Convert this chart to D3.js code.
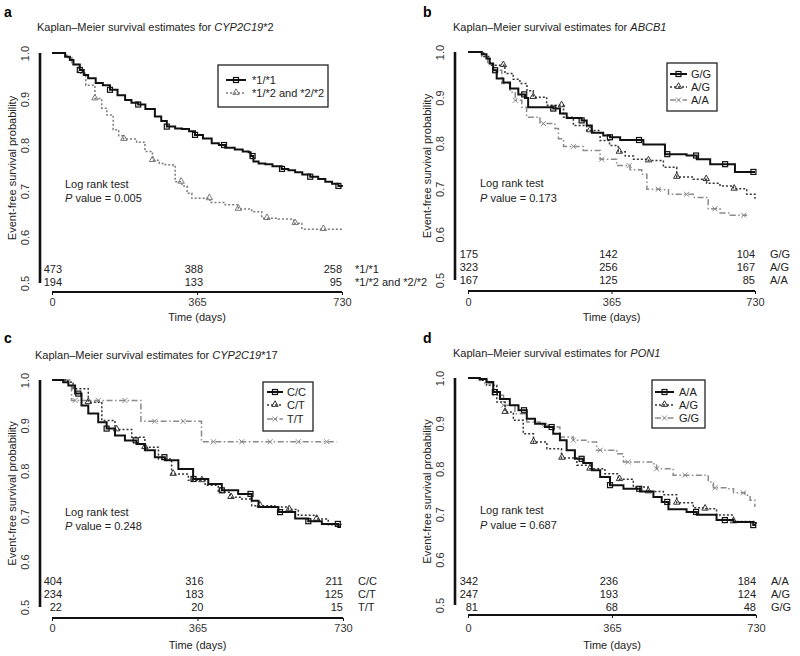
<!DOCTYPE html>
<html><head><meta charset="utf-8">
<script src="https://cdn.jsdelivr.net/npm/d3@7"></script>
<style>body{margin:0;background:#fff}svg text{font-family:"Liberation Sans",Arial,sans-serif;fill:#222}</style>
</head><body><svg id="c" width="800" height="656"></svg>
<script>
// ---------- data ----------
const timeTicks = [0, 365, 730];
const yTicks = [0.5, 0.6, 0.7, 0.8, 0.9, 1.0];
const yTickLabels = ["0.5", "0.6", "0.7", "0.8", "0.9", "1.0"];
const panelLetters = ["a", "b", "c", "d"];
const titleGene = ["CYP2C19", "ABCB1", "CYP2C19", "PON1"];
const titleSuffix = ["*2", "", "*17", ""];
const pValues = ["0.005", "0.173", "0.248", "0.687"];

// Panel a: CYP2C19*2
const groupsA = ["*1/*1", "*1/*2 and *2/*2"];
const curveA1 = [[0,1],[33,0.992],[45,0.985],[54,0.975],[70,0.963],[80,0.952],[91,0.945],[110,0.935],[128,0.93],[146,0.92],[165,0.908],[184,0.898],[200,0.892],[217,0.888],[235,0.878],[259,0.862],[275,0.852],[289,0.84],[310,0.836],[327,0.835],[345,0.83],[360,0.822],[380,0.814],[402,0.804],[420,0.8],[436,0.794],[460,0.79],[480,0.786],[495,0.784],[500,0.776],[507,0.764],[520,0.76],[537,0.758],[555,0.754],[578,0.748],[595,0.745],[612,0.741],[630,0.736],[650,0.731],[670,0.726],[688,0.72],[705,0.716],[721,0.711],[730,0.709]];
const curveA2 = [[0,1],[37,0.99],[50,0.975],[66,0.956],[85,0.93],[108,0.901],[125,0.88],[138,0.865],[154,0.833],[168,0.82],[180,0.813],[213,0.806],[234,0.786],[253,0.767],[270,0.76],[285,0.757],[305,0.755],[310,0.72],[327,0.711],[340,0.695],[352,0.684],[398,0.675],[436,0.67],[469,0.661],[503,0.655],[528,0.641],[570,0.639],[608,0.63],[629,0.617],[730,0.617]];
const marksA1 = [70,146,217,289,360,433,505,579,650,721];
const marksA2 = [108,181,253,325,396,469,541,612,683];
const riskA = [[473,388,258],[194,133,95]];

// Panel b: ABCB1
const groupsB = ["G/G", "A/G", "A/A"];
const curveB1 = [[0,1],[35,0.995],[47,0.986],[55,0.975],[64,0.96],[73,0.942],[90,0.933],[107,0.92],[128,0.907],[145,0.899],[153,0.879],[217,0.876],[234,0.865],[251,0.855],[289,0.85],[302,0.839],[315,0.823],[344,0.817],[361,0.813],[387,0.807],[446,0.797],[501,0.776],[556,0.773],[582,0.765],[616,0.754],[679,0.737],[730,0.737]];
const curveB2 = [[0,1],[40,0.99],[56,0.971],[94,0.953],[115,0.94],[132,0.931],[150,0.915],[166,0.901],[200,0.883],[243,0.857],[268,0.839],[302,0.828],[336,0.806],[360,0.795],[382,0.781],[400,0.772],[421,0.765],[459,0.762],[497,0.747],[531,0.726],[573,0.721],[607,0.712],[641,0.706],[675,0.7],[709,0.688],[730,0.678]];
const curveB3 = [[0,1],[35,0.99],[50,0.975],[64,0.96],[86,0.931],[107,0.912],[120,0.894],[137,0.879],[149,0.857],[179,0.855],[183,0.843],[221,0.832],[230,0.81],[243,0.793],[293,0.784],[336,0.765],[378,0.751],[412,0.742],[442,0.732],[455,0.699],[489,0.698],[510,0.688],[573,0.681],[611,0.656],[641,0.647],[667,0.642],[710,0.642]];
const marksB1 = [69,143,217,289,361,435,507,580,654,726];
const marksB2 = [90,166,238,310,385,459,531,606,677];
const marksB3 = [120,192,268,340,410,484,556,628,701];
const riskB = [[175,142,104],[323,256,167],[167,125,85]];

// Panel c: CYP2C19*17
const groupsC = ["C/C", "C/T", "T/T"];
const curveC1 = [[0,1],[28,0.995],[41,0.988],[58,0.97],[74,0.944],[91,0.926],[116,0.907],[137,0.893],[158,0.878],[183,0.867],[212,0.859],[233,0.845],[258,0.83],[283,0.823],[317,0.804],[354,0.782],[392,0.771],[426,0.757],[467,0.749],[501,0.734],[518,0.72],[568,0.709],[610,0.695],[643,0.689],[677,0.683],[718,0.676],[725,0.676]];
const curveC2 = [[0,1],[40,0.995],[53,0.981],[91,0.951],[125,0.911],[158,0.891],[200,0.874],[233,0.852],[267,0.826],[300,0.793],[342,0.779],[384,0.768],[417,0.753],[447,0.742],[476,0.738],[501,0.723],[559,0.72],[593,0.715],[618,0.702],[664,0.694],[693,0.681],[725,0.679]];
const curveC3 = [[0,1],[49,0.955],[223,0.909],[375,0.864],[714,0.864]];
const marksC1 = [66,137,210,282,355,426,498,572,643,717];
const marksC2 = [91,162,233,304,376,449,522,595,664];
const marksC3 = [58,116,183,258,329,405,476,547,618,689];
const riskC = [[404,316,211],[234,183,125],[22,20,15]];

// Panel d: PON1
const groupsD = ["A/A", "A/G", "G/G"];
const curveD1 = [[0,1],[30,0.998],[47,0.991],[64,0.969],[81,0.954],[106,0.94],[128,0.929],[149,0.91],[170,0.899],[195,0.892],[216,0.877],[233,0.863],[250,0.841],[271,0.822],[292,0.813],[314,0.797],[335,0.782],[360,0.764],[394,0.756],[436,0.75],[470,0.738],[491,0.727],[508,0.711],[554,0.705],[580,0.699],[630,0.687],[673,0.683],[723,0.676],[730,0.676]];
const curveD2 = [[0,1],[30,0.995],[47,0.984],[73,0.947],[94,0.925],[115,0.907],[140,0.877],[166,0.859],[200,0.844],[237,0.824],[276,0.808],[309,0.8],[347,0.789],[381,0.777],[419,0.76],[457,0.75],[495,0.743],[529,0.725],[571,0.714],[601,0.712],[630,0.698],[673,0.684],[730,0.678]];
const curveD3 = [[0,1],[25,0.995],[43,0.988],[64,0.962],[90,0.94],[119,0.921],[149,0.903],[183,0.896],[204,0.892],[233,0.87],[267,0.863],[305,0.859],[326,0.841],[377,0.833],[394,0.815],[470,0.811],[478,0.8],[520,0.786],[609,0.771],[622,0.758],[656,0.756],[673,0.747],[702,0.742],[715,0.731],[727,0.716]];
const marksD1 = [68,142,212,288,360,434,505,578,651,723];
const marksD2 = [94,166,238,309,384,457,529,601,673];
const marksD3 = [90,195,267,335,406,478,550,626,698];
const riskD = [[342,236,184],[247,193,124],[81,68,48]];

// ---------- styles ----------
const STY = {
  solid: {color:"#111", width:2, dash:null, mark:"square"},
  dotGrey: {color:"#7a7a7a", width:1.5, dash:"2,2", mark:"tri"},
  dotDark: {color:"#333", width:1.5, dash:"2,2", mark:"tri"},
  dashDot: {color:"#8a8a8a", width:1.5, dash:"6,2.5,1.5,2.5", mark:"x"}
};

// ---------- layout ----------
const panels = [
  {x0:52,x1:342,yTop:53,yBot:283,axX:40,axY:292,letter:[4,17],title:[37,31],
   legend:{x:218,y:65,w:110,h:42,rows:[80,93],sx:[226,246],tx:252},
   log:[65,188,202], riskLast:286, labX:355, tickY:306, xtitleY:321,
   series:[{n:groupsA[0],c:curveA1,m:marksA1,s:STY.solid},{n:groupsA[1],c:curveA2,m:marksA2,s:STY.dotGrey}], risk:riskA},
  {x0:468,x1:755,yTop:52,yBot:280,axX:455,axY:291,letter:[423,17],title:[453,31],
   legend:{x:667,y:63,w:50,h:48,rows:[74,87,100],sx:[670,687],tx:691},
   log:[480,187,202], riskLast:284, labX:770, tickY:306, xtitleY:321,
   series:[{n:groupsB[0],c:curveB1,m:marksB1,s:STY.solid},{n:groupsB[1],c:curveB2,m:marksB2,s:STY.dotDark},{n:groupsB[2],c:curveB3,m:marksB3,s:STY.dashDot}], risk:riskB},
  {x0:52,x1:343,yTop:380,yBot:607,axX:40,axY:618,letter:[4,343],title:[35,359],
   legend:{x:263,y:382,w:50,h:49,rows:[392,405,419],sx:[267,283],tx:287},
   log:[65,516,530], riskLast:611, labX:358, tickY:632, xtitleY:649,
   series:[{n:groupsC[0],c:curveC1,m:marksC1,s:STY.solid},{n:groupsC[1],c:curveC2,m:marksC2,s:STY.dotDark},{n:groupsC[2],c:curveC3,m:marksC3,s:STY.dashDot}], risk:riskC},
  {x0:468,x1:756,yTop:378,yBot:605,axX:455,axY:615,letter:[423,343],title:[453,357],
   legend:{x:652,y:380,w:53,h:48,rows:[392,405,418],sx:[655,674],tx:679},
   log:[480,514,529], riskLast:611, labX:771, tickY:632, xtitleY:649,
   series:[{n:groupsD[0],c:curveD1,m:marksD1,s:STY.solid},{n:groupsD[1],c:curveD2,m:marksD2,s:STY.dotDark},{n:groupsD[2],c:curveD3,m:marksD3,s:STY.dashDot}], risk:riskD}
];

const svg = d3.select("#c");
const FS = 11;

function drawMarker(g, type, x, y, color) {
  if (type === "square") {
    g.append("rect").attr("x", x-2.5).attr("y", y-2.5).attr("width",5).attr("height",5)
      .attr("fill","none").attr("stroke",color).attr("stroke-width",1.2);
  } else if (type === "tri") {
    const sym = d3.symbol().type(d3.symbolTriangle).size(18);
    g.append("path").attr("d", sym()).attr("transform",`translate(${x},${y-0.5})`)
      .attr("fill","none").attr("stroke",color).attr("stroke-width",1);
  } else {
    const sym = d3.symbol().type(d3.symbolX).size(18);
    g.append("path").attr("d", sym()).attr("transform",`translate(${x},${y})`)
      .attr("fill","none").attr("stroke",color).attr("stroke-width",1);
  }
}

function stepValue(curve, t) {
  let v = curve[0][1];
  for (const p of curve) { if (p[0] <= t) v = p[1]; }
  return v;
}

panels.forEach((P, i) => {
  const g = svg.append("g");
  const x = d3.scaleLinear().domain([0, 730]).range([P.x0, P.x1]);
  const y = d3.scaleLinear().domain([0.5, 1.0]).range([P.yBot, P.yTop]);

  // panel letter
  g.append("text").attr("x", P.letter[0]).attr("y", P.letter[1]).attr("font-size", 14)
    .attr("font-weight", "bold").style("fill","#000").text(panelLetters[i]);
  // title
  const tt = g.append("text").attr("x", P.title[0]).attr("y", P.title[1]).attr("font-size", FS);
  tt.append("tspan").text("Kaplan\u2013Meier survival estimates for ");
  tt.append("tspan").attr("font-style", "italic").text(titleGene[i]);
  if (titleSuffix[i]) tt.append("tspan").text(titleSuffix[i]);

  // y axis
  const yAx = d3.axisLeft(y).tickValues(yTicks).tickSize(0).tickFormat((d, k) => yTickLabels[k]);
  const ya = g.append("g").attr("transform", `translate(${P.axX},0)`).call(yAx);
  ya.select(".domain").attr("stroke", "#111").attr("stroke-width", 2.6).attr("d", `M0,${P.yBot}V${P.yTop}`);
  ya.selectAll(".tick text").attr("font-size", FS).attr("font-family", "Liberation Sans, Arial, sans-serif")
    .style("fill","#333")
    .attr("text-anchor", "middle").attr("x", null).attr("dy", null)
    .attr("transform", "translate(-11,0) rotate(-90)").attr("y", 0);
  // y title
  g.append("text").attr("transform", `translate(${P.axX-24},${(P.yTop+P.yBot)/2}) rotate(-90)`)
    .attr("text-anchor", "middle").attr("font-size", FS).text("Event-free survival probability");

  // x axis
  const xAx = d3.axisBottom(x).tickValues(timeTicks).tickSize(3).tickFormat(d3.format("d"));
  const xa = g.append("g").attr("transform", `translate(0,${P.axY})`).call(xAx);
  xa.select(".domain").attr("stroke", "#111").attr("stroke-width", 2).attr("d", `M${P.x0},0H${P.x1}`);
  xa.selectAll(".tick line").attr("stroke", "#111");
  xa.selectAll(".tick text").attr("font-size", FS).attr("font-family", "Liberation Sans, Arial, sans-serif")
    .style("fill","#333").attr("y", null).attr("dy", null)
    .attr("transform", `translate(0,${P.tickY - P.axY})`);
  g.append("text").attr("x", x(365)).attr("y", P.xtitleY).attr("text-anchor", "middle")
    .attr("font-size", FS).text("Time (days)");

  // curves
  const line = d3.line().x(d => x(d[0])).y(d => y(d[1])).curve(d3.curveStepAfter);
  P.series.slice().reverse().forEach(S => {
    g.append("path").attr("d", line(S.c)).attr("fill", "none")
      .attr("stroke", S.s.color).attr("stroke-width", S.s.width)
      .attr("stroke-dasharray", S.s.dash);
    S.m.forEach(t => drawMarker(g, S.s.mark, x(t), y(stepValue(S.c, t)), S.s.color));
  });

  // log rank
  g.append("text").attr("x", P.log[0]).attr("y", P.log[1]).attr("font-size", FS).text("Log rank test");
  const pv = g.append("text").attr("x", P.log[0]).attr("y", P.log[2]).attr("font-size", FS);
  pv.append("tspan").attr("font-style", "italic").text("P");
  pv.append("tspan").text(" value = " + pValues[i]);

  // legend
  const L = P.legend;
  g.append("rect").attr("x", L.x).attr("y", L.y).attr("width", L.w).attr("height", L.h)
    .attr("fill", "#fff").attr("stroke", "#222").attr("stroke-width", 1.3);
  P.series.forEach((S, k) => {
    const ry = L.rows[k];
    g.append("line").attr("x1", L.sx[0]).attr("x2", L.sx[1]).attr("y1", ry).attr("y2", ry)
      .attr("stroke", S.s.color).attr("stroke-width", S.s.width).attr("stroke-dasharray", S.s.dash);
    drawMarker(g, S.s.mark, (L.sx[0]+L.sx[1])/2, ry, S.s.color);
    g.append("text").attr("x", L.tx).attr("y", ry + 4).attr("font-size", FS).text(S.n);
  });

  // risk table
  const nRows = P.risk.length;
  const offs = [10, 6, 0];
  P.risk.forEach((row, r) => {
    const by = P.riskLast - (nRows - 1 - r) * 13;
    row.forEach((v, c) => {
      g.append("text").attr("x", x(timeTicks[c]) + offs[c]).attr("y", by)
        .attr("text-anchor", "end").attr("font-size", FS).text(v);
    });
    g.append("text").attr("x", P.labX).attr("y", by).attr("font-size", FS).text(P.series[r].n);
  });
});
</script></body></html>
